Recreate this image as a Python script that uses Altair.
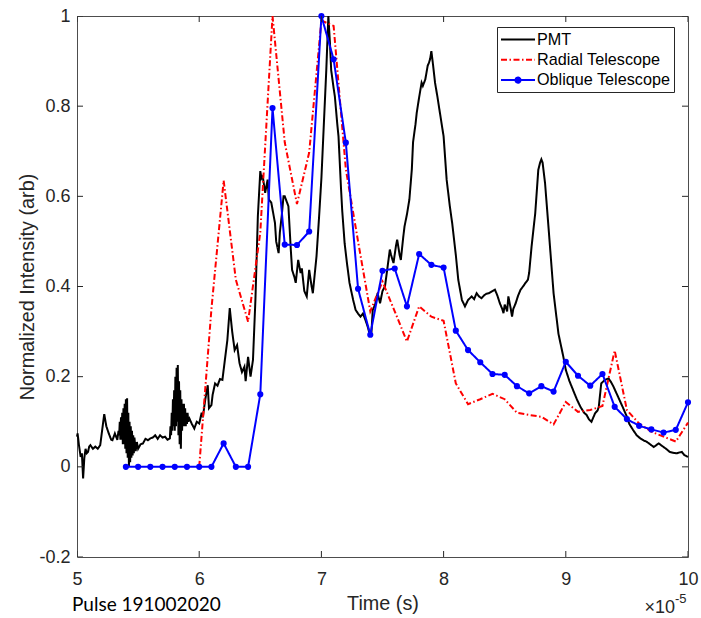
import altair as alt
import pandas as pd

# Time values are in units of 1e-5 s (axis shows x10^-5); (time, normalized intensity)
pmt_points = [
    (5.00, 0.067), (5.005, 0.074), (5.015, 0.05), (5.03, 0.022), (5.04, 0.03), (5.05, -0.026), (5.06, 0.02),
    (5.07, 0.04), (5.08, 0.03), (5.09, 0.033), (5.10, 0.045), (5.11, 0.048), (5.13, 0.04), (5.15, 0.045),
    (5.17, 0.04), (5.19, 0.048), (5.21, 0.09), (5.223, 0.117), (5.24, 0.09), (5.26, 0.074), (5.28, 0.06),
    (5.29, 0.059), (5.31, 0.074), (5.33, 0.06), (5.34, 0.08), (5.345, 0.07), (5.35, 0.1), (5.355, 0.06),
    (5.36, 0.11), (5.365, 0.06), (5.37, 0.12), (5.375, 0.05), (5.38, 0.13), (5.385, 0.05), (5.39, 0.14),
    (5.395, 0.04), (5.40, 0.15), (5.405, 0.03), (5.41, 0.152), (5.415, 0.02), (5.42, 0.12), (5.425, 0.0),
    (5.43, 0.1), (5.435, 0.01), (5.44, 0.09), (5.445, 0.02), (5.45, 0.08), (5.455, 0.025), (5.46, 0.07),
    (5.465, 0.03), (5.47, 0.065), (5.48, 0.035), (5.49, 0.055), (5.50, 0.04), (5.52, 0.05), (5.54, 0.052),
    (5.56, 0.062), (5.58, 0.059), (5.60, 0.063), (5.62, 0.065), (5.64, 0.07), (5.66, 0.062), (5.68, 0.07),
    (5.70, 0.065), (5.72, 0.067), (5.74, 0.06), (5.76, 0.063), (5.765, 0.09), (5.77, 0.07), (5.775, 0.12),
    (5.78, 0.08), (5.785, 0.15), (5.79, 0.09), (5.795, 0.17), (5.80, 0.08), (5.805, 0.2), (5.81, 0.09),
    (5.815, 0.22), (5.82, 0.1), (5.825, 0.226), (5.83, 0.07), (5.835, 0.19), (5.84, 0.05), (5.845, 0.17),
    (5.85, 0.04), (5.855, 0.15), (5.86, 0.08), (5.865, 0.14), (5.87, 0.09), (5.875, 0.14), (5.88, 0.09),
    (5.885, 0.13), (5.89, 0.09), (5.895, 0.12), (5.90, 0.095), (5.905, 0.12), (5.91, 0.1), (5.92, 0.107),
    (5.94, 0.095), (5.96, 0.085), (5.98, 0.1), (6.00, 0.096), (6.02, 0.12), (6.03, 0.11), (6.05, 0.15),
    (6.07, 0.181), (6.08, 0.13), (6.10, 0.137), (6.11, 0.16), (6.13, 0.185), (6.15, 0.18), (6.17, 0.195),
    (6.19, 0.193), (6.21, 0.237), (6.23, 0.28), (6.25, 0.352), (6.27, 0.3), (6.29, 0.259), (6.31, 0.27),
    (6.33, 0.23), (6.35, 0.21), (6.37, 0.222), (6.38, 0.19), (6.40, 0.244), (6.42, 0.2), (6.44, 0.237),
    (6.46, 0.37), (6.48, 0.556), (6.50, 0.656), (6.51, 0.64), (6.52, 0.644), (6.54, 0.608), (6.56, 0.637),
    (6.57, 0.593), (6.59, 0.586), (6.62, 0.541), (6.63, 0.5), (6.65, 0.474), (6.66, 0.52), (6.675, 0.556),
    (6.69, 0.6), (6.70, 0.6), (6.73, 0.578), (6.75, 0.48), (6.76, 0.437), (6.78, 0.42), (6.79, 0.408),
    (6.81, 0.459), (6.83, 0.43), (6.84, 0.44), (6.86, 0.39), (6.88, 0.378), (6.90, 0.437), (6.92, 0.4),
    (6.93, 0.385), (6.95, 0.44), (6.96, 0.467), (6.98, 0.55), (7.00, 0.64), (7.02, 0.76), (7.04, 0.88),
    (7.057, 1.0), (7.07, 0.94), (7.08, 0.88), (7.10, 0.84), (7.11, 0.822), (7.13, 0.76), (7.14, 0.733),
    (7.16, 0.62), (7.17, 0.57), (7.19, 0.496), (7.21, 0.45), (7.23, 0.408), (7.26, 0.37), (7.28, 0.348),
    (7.30, 0.34), (7.32, 0.333), (7.34, 0.34), (7.36, 0.326), (7.38, 0.31), (7.40, 0.289), (7.41, 0.3),
    (7.42, 0.348), (7.44, 0.36), (7.46, 0.385), (7.48, 0.363), (7.50, 0.39), (7.52, 0.4), (7.54, 0.44),
    (7.56, 0.482), (7.57, 0.47), (7.59, 0.452), (7.61, 0.49), (7.62, 0.504), (7.64, 0.47), (7.65, 0.459),
    (7.67, 0.51), (7.68, 0.533), (7.70, 0.56), (7.72, 0.593), (7.74, 0.66), (7.75, 0.72), (7.77, 0.76),
    (7.78, 0.785), (7.80, 0.82), (7.82, 0.852), (7.83, 0.845), (7.85, 0.859), (7.87, 0.89), (7.88, 0.896),
    (7.89, 0.905), (7.90, 0.922), (7.91, 0.9), (7.93, 0.852), (7.95, 0.82), (7.97, 0.785), (8.00, 0.733),
    (8.025, 0.637), (8.05, 0.58), (8.07, 0.541), (8.10, 0.47), (8.12, 0.415), (8.15, 0.37), (8.175, 0.356),
    (8.20, 0.37), (8.23, 0.378), (8.25, 0.372), (8.27, 0.385), (8.29, 0.378), (8.31, 0.374), (8.33, 0.38),
    (8.35, 0.384), (8.37, 0.385), (8.40, 0.39), (8.42, 0.393), (8.44, 0.38), (8.46, 0.363), (8.48, 0.35),
    (8.49, 0.341), (8.50, 0.36), (8.52, 0.345), (8.53, 0.378), (8.55, 0.35), (8.56, 0.333), (8.57, 0.35),
    (8.59, 0.363), (8.61, 0.38), (8.63, 0.393), (8.65, 0.4), (8.67, 0.408), (8.69, 0.415), (8.70, 0.43),
    (8.72, 0.489), (8.75, 0.563), (8.775, 0.659), (8.79, 0.675), (8.80, 0.682), (8.81, 0.675), (8.83, 0.63),
    (8.86, 0.526), (8.90, 0.385), (8.94, 0.295), (8.98, 0.244), (9.00, 0.215), (9.03, 0.19), (9.06, 0.17),
    (9.09, 0.15), (9.12, 0.133), (9.15, 0.12), (9.17, 0.115), (9.19, 0.105), (9.21, 0.1), (9.24, 0.119),
    (9.26, 0.125), (9.27, 0.133), (9.29, 0.185), (9.32, 0.193), (9.35, 0.196), (9.37, 0.188), (9.39, 0.178),
    (9.42, 0.16), (9.44, 0.148), (9.47, 0.13), (9.50, 0.111), (9.52, 0.095), (9.55, 0.082), (9.58, 0.07),
    (9.61, 0.063), (9.64, 0.058), (9.66, 0.056), (9.69, 0.05), (9.72, 0.044), (9.74, 0.048), (9.76, 0.052),
    (9.78, 0.048), (9.80, 0.044), (9.83, 0.038), (9.85, 0.033), (9.88, 0.031), (9.91, 0.03), (9.93, 0.032),
    (9.95, 0.033), (9.97, 0.026), (10.0, 0.022),
]
pmt_time = [p[0] for p in pmt_points]
pmt_intensity = [p[1] for p in pmt_points]

radial_time = [6.0, 6.1, 6.2, 6.3, 6.4, 6.5, 6.6, 6.7, 6.8, 6.9, 7.0, 7.1, 7.2, 7.3, 7.4, 7.5, 7.6, 7.7, 7.8, 7.9,
               8.0, 8.1, 8.2, 8.3, 8.4, 8.5, 8.6, 8.7, 8.8, 8.9, 9.0, 9.1, 9.2, 9.3, 9.4, 9.5, 9.6, 9.7, 9.8, 9.9, 10.0]
radial_intensity = [0.0, 0.35, 0.635, 0.415, 0.322, 0.52, 1.0, 0.72, 0.583, 0.697, 0.99, 0.978, 0.66, 0.5, 0.345,
                    0.411, 0.345, 0.278, 0.356, 0.333, 0.324, 0.185, 0.139, 0.15, 0.162, 0.15, 0.12, 0.115, 0.111,
                    0.094, 0.144, 0.122, 0.126, 0.135, 0.258, 0.126, 0.096, 0.078, 0.067, 0.056, 0.098]

oblique_time = [5.4, 5.5, 5.6, 5.7, 5.8, 5.9, 6.0, 6.1, 6.2, 6.3, 6.4, 6.5, 6.6, 6.7, 6.8, 6.9, 7.0, 7.1, 7.2, 7.3,
                7.4, 7.5, 7.6, 7.7, 7.8, 7.9, 8.0, 8.1, 8.2, 8.3, 8.4, 8.5, 8.6, 8.7, 8.8, 8.9, 9.0, 9.1, 9.2, 9.3,
                9.4, 9.5, 9.6, 9.7, 9.8, 9.9, 10.0]
oblique_intensity = [0, 0, 0, 0, 0, 0, 0, 0, 0.052, 0, 0, 0.161, 0.796, 0.493, 0.492, 0.522, 1.0, 0.904, 0.719, 0.395,
                     0.293, 0.435, 0.44, 0.356, 0.472, 0.448, 0.442, 0.302, 0.259, 0.232, 0.206, 0.204, 0.179, 0.163,
                     0.179, 0.167, 0.233, 0.202, 0.18, 0.206, 0.133, 0.106, 0.091, 0.083, 0.076, 0.082, 0.143]

series_names = ["PMT", "Radial Telescope", "Oblique Telescope"]
series_colors = ["#000000", "#FF0000", "#0000FF"]
series_dashes = [[1, 0], [6, 2.5, 1.5, 2.5], [1, 0]]
x_ticks = [5, 6, 7, 8, 9, 10]
y_ticks = [-0.2, 0, 0.2, 0.4, 0.6, 0.8, 1]

df = pd.concat([
    pd.DataFrame({"t": pmt_time, "v": pmt_intensity, "series": series_names[0]}),
    pd.DataFrame({"t": radial_time, "v": radial_intensity, "series": series_names[1]}),
    pd.DataFrame({"t": oblique_time, "v": oblique_intensity, "series": series_names[2]}),
], ignore_index=True)
xt_df = pd.DataFrame({"xt": x_ticks})
yt_df = pd.DataFrame({"yt": y_ticks})

W, H = 611, 541
FONT = "Liberation Sans"
TXT = "#262626"

x_scale = alt.Scale(domain=[5, 10], nice=False, zero=False)
y_scale = alt.Scale(domain=[-0.2, 1], nice=False, zero=False)
color_scale = alt.Scale(domain=series_names, range=series_colors)
dash_scale = alt.Scale(domain=series_names, range=series_dashes)

LINE_SYMBOL = "M-1,0H3"
OBLIQUE_SYMBOL = "M-1,0H3M1.3,0A0.3,0.3,0,1,1,0.7,0A0.3,0.3,0,1,1,1.3,0Z"
legend = alt.Legend(
    title=None, orient="none", legendX=420, legendY=11,
    symbolType=alt.ExprRef(expr="datum.label === 'Oblique Telescope' ? '" + OBLIQUE_SYMBOL + "' : '" + LINE_SYMBOL + "'"),
    symbolSize=289, symbolStrokeWidth=2, symbolFillColor="#0000FF",
    labelFont=FONT, labelFontSize=16.2, labelColor="#000000", labelOffset=18, labelLimit=300,
    padding=3, rowPadding=2.3, strokeColor=TXT, fillColor="#FFFFFF", cornerRadius=0,
)

x_main = alt.Axis(values=x_ticks, title="Time (s)", orient="bottom", domain=False, ticks=False, tickSize=0,
                  labelFlush=False, labelOverlap=False, labelPadding=13, labelFont=FONT, labelFontSize=18,
                  labelColor=TXT, titleFont=FONT, titleFontSize=19.8, titleFontWeight="normal", titleColor=TXT,
                  titleX=W / 2, titleY=52, titleBaseline="alphabetic", grid=False, format="d")
y_main = alt.Axis(values=y_ticks, title="Normalized Intensity (arb)", orient="left", domain=False, ticks=False,
                  tickSize=0, labelPadding=7, labelFont=FONT, labelFontSize=18, labelColor=TXT,
                  format="~g", labelExpr="replace(datum.label, '\u2212', '-')", labelOverlap=False,
                  labelFlush=False, titleFont=FONT, titleFontSize=19.8, titleFontWeight="normal", titleColor=TXT,
                  titleX=-44, titleY=H / 2, titleAngle=270, titleBaseline="alphabetic", grid=False)

base = alt.Chart(df)
color_enc = alt.Color("series:N", scale=color_scale, legend=legend)
dash_enc = alt.StrokeDash("series:N", scale=dash_scale, legend=legend)
X_main = alt.X("t:Q", scale=x_scale, axis=x_main)
Y_main = alt.Y("v:Q", scale=y_scale, axis=y_main)
X = alt.X("t:Q", scale=x_scale, axis=None)
Y = alt.Y("v:Q", scale=y_scale, axis=None)

pmt = base.transform_filter(alt.datum.series == "PMT").mark_line(strokeWidth=2).encode(
    x=X_main, y=Y_main, color=color_enc, strokeDash=dash_enc)
radial = base.transform_filter(alt.datum.series == "Radial Telescope").mark_line(strokeWidth=2).encode(
    x=X, y=Y, color=color_enc, strokeDash=dash_enc)
oblique = base.transform_filter(alt.datum.series == "Oblique Telescope").mark_line(strokeWidth=2).encode(
    x=X, y=Y, color=color_enc, strokeDash=dash_enc)
oblique_pts = base.transform_filter(alt.datum.series == "Oblique Telescope").mark_circle(
    size=38, opacity=1, color="#0000FF").encode(x=X, y=Y)

# inward tick marks on all four sides (half of each tick is clipped away at the frame)
tick_style = dict(size=12, thickness=1, color=TXT, clip=True, opacity=1)
xt_x = alt.X("xt:Q", scale=x_scale, axis=None)
yt_y = alt.Y("yt:Q", scale=y_scale, axis=None)
ticks_bottom = alt.Chart(xt_df).mark_tick(orient="vertical", **tick_style).encode(x=xt_x, y=alt.value(H))
ticks_top = alt.Chart(xt_df).mark_tick(orient="vertical", **tick_style).encode(x=xt_x, y=alt.value(0))
ticks_left = alt.Chart(yt_df).mark_tick(orient="horizontal", **tick_style).encode(y=yt_y, x=alt.value(0))
ticks_right = alt.Chart(yt_df).mark_tick(orient="horizontal", **tick_style).encode(y=yt_y, x=alt.value(W))

pulse_txt = alt.Chart(pd.DataFrame({"s": ["Pulse 191002020"]})).mark_text(
    align="left", baseline="alphabetic", font="Lato", fontSize=19, color="#000000").encode(
    x=alt.value(-5), y=alt.value(595), text="s:N")
exp_base = alt.Chart(pd.DataFrame({"s": ["\u00d710"]})).mark_text(
    align="right", baseline="alphabetic", font=FONT, fontSize=18, color=TXT).encode(
    x=alt.value(598), y=alt.value(597), text="s:N")
exp_sup = alt.Chart(pd.DataFrame({"s": ["-5"]})).mark_text(
    align="left", baseline="alphabetic", font=FONT, fontSize=13, color=TXT).encode(
    x=alt.value(598), y=alt.value(587), text="s:N")

chart = alt.layer(
    pmt, radial, oblique, oblique_pts,
    ticks_bottom, ticks_top, ticks_left, ticks_right,
    pulse_txt, exp_base, exp_sup,
).resolve_axis(
    x="independent", y="independent"
).properties(
    width=W, height=H,
    autosize=alt.AutoSizeParams(type="none"),
    padding={"left": 77, "top": 16, "right": 13, "bottom": 61},
    background="#FFFFFF",
).configure_view(stroke="#4d4d4d", strokeWidth=1)

chart.save("out.html", embed_options={"renderer": "svg", "actions": False})
